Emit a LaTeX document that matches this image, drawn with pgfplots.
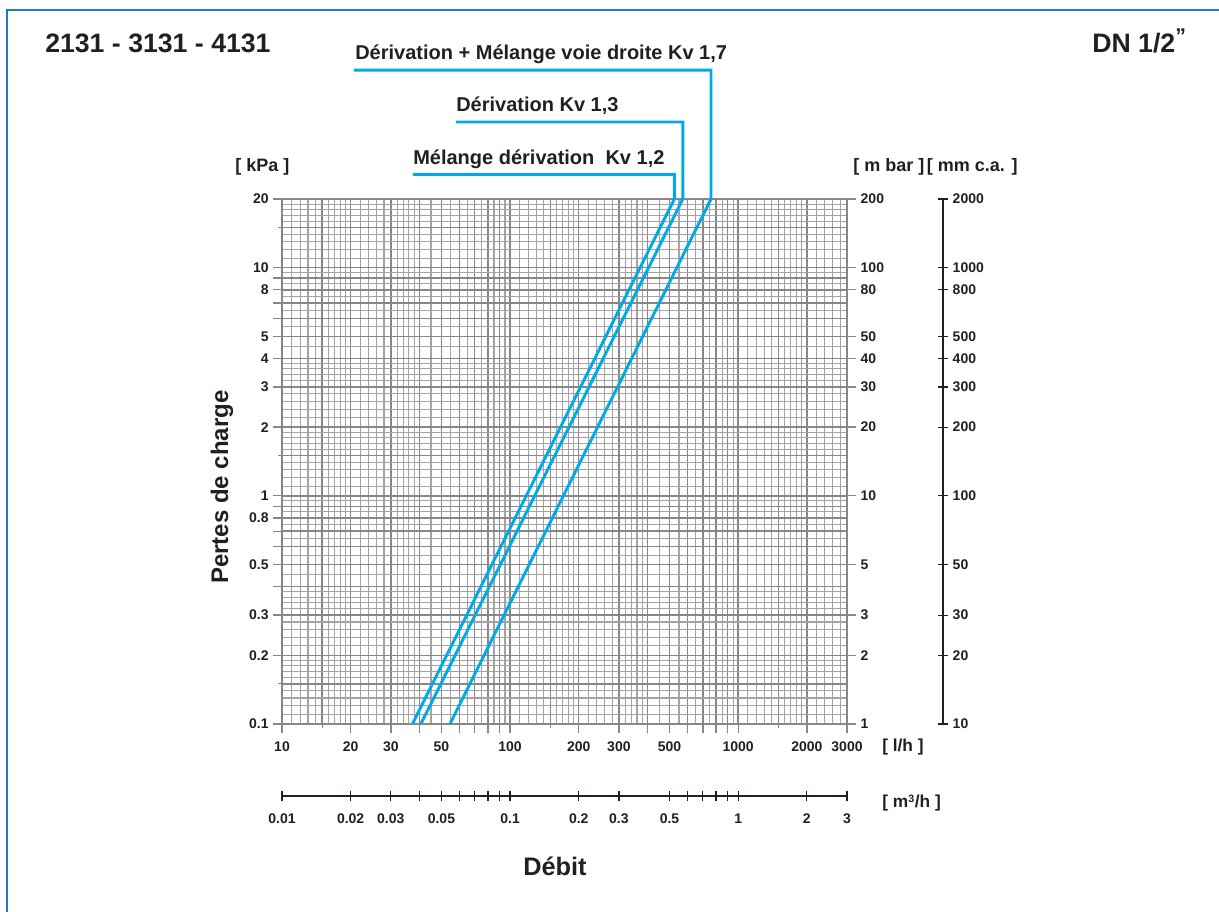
\documentclass[border=0pt]{standalone}
\usepackage{pgfplots}
\pgfplotsset{compat=1.18}
\usepackage{fontspec}
\setmainfont{Liberation Sans}

\definecolor{cyanline}{RGB}{0,170,232}
\definecolor{gridd}{RGB}{135,135,135}
\definecolor{gridl}{RGB}{163,163,163}
\definecolor{frameblue}{RGB}{25,125,200}
\definecolor{ink}{RGB}{35,31,32}

% tick label font
\newcommand{\tl}{\fontsize{10.5}{12}\selectfont\bfseries}

\begin{document}
\begin{tikzpicture}
\useasboundingbox (0,0) rectangle (914.25pt,684pt);

% texts and frame, in reference pixels (y up)
\begin{scope}[x=0.75pt,y=0.75pt]
  \draw[frameblue,line width=1.5pt] (7,0) -- (7,902) -- (1219,902);
  \node[anchor=base west,inner sep=0,text=ink,font=\fontsize{20}{24}\selectfont\bfseries] at (45,859) {2131 - 3131 - 4131};
  \node[anchor=base west,inner sep=0,text=ink,font=\fontsize{20}{24}\selectfont\bfseries] at (1092,859) {DN 1/2\raisebox{0.35em}{\fontsize{16}{16}\selectfont ”}};
  \node[anchor=base west,inner sep=0,text=ink,font=\fontsize{13.5}{16}\selectfont\bfseries] at (235,740) {[ kPa ]};
  \node[anchor=base west,inner sep=0,text=ink,font=\fontsize{13.5}{16}\selectfont\bfseries] at (853,740) {[ m bar ]\hspace{2pt}[ mm c.a. ]};
  \node[anchor=base west,inner sep=0,text=ink,font=\fontsize{13}{16}\selectfont\bfseries] at (882,160) {[ l/h ]};
  \node[anchor=base west,inner sep=0,text=ink,font=\fontsize{13}{16}\selectfont\bfseries] at (882,104) {[ m\textsuperscript{\fontsize{8}{8}\selectfont 3}/h ]};
  \node[rotate=90,text=ink,font=\fontsize{18}{22}\selectfont\bfseries] at (222,425) {Pertes de charge};
  \node[text=ink,font=\fontsize{19}{22}\selectfont\bfseries] at (555,46) {Débit};
  \node[anchor=base west,inner sep=0,text=ink,font=\fontsize{15}{18}\selectfont\bfseries] at (355,852) {Dérivation + Mélange voie droite Kv 1,7};
  \node[anchor=base west,inner sep=0,text=ink,font=\fontsize{15}{18}\selectfont\bfseries] at (456,800) {Dérivation Kv 1,3};
  \node[anchor=base west,inner sep=0,text=ink,font=\fontsize{15}{18}\selectfont\bfseries] at (413,747) {Mélange dérivation\ \ Kv 1,2};
\end{scope}

% grid and curves
\begin{axis}[
  at={(211.5pt,141pt)}, anchor=south west,
  scale only axis, width=423.75pt, height=393.75pt,
  xmode=log, ymode=log,
  xmin=10, xmax=3000, ymin=0.1, ymax=20,
  xtick={10,15,20,30,40,50,60,70,80,90,100,150,200,300,400,500,600,700,800,900,1000,1500,2000,3000},
  minor xtick={11,12,13,14,16,17,18,19,22,24,26,28,32,34,36,38,45,55,65,75,85,95,
    110,120,130,140,160,170,180,190,220,240,260,280,320,340,360,380,450,550,650,750,850,950,
    1100,1200,1300,1400,1600,1700,1800,1900,2200,2400,2600,2800},
  ytick={0.1,0.15,0.2,0.3,0.4,0.5,0.6,0.7,0.8,0.9,1,1.5,2,3,4,5,6,7,8,9,10,15,20},
  minor ytick={0.11,0.12,0.13,0.14,0.16,0.17,0.18,0.19,0.22,0.24,0.26,0.28,0.32,0.34,0.36,0.38,0.45,0.55,0.65,0.75,0.85,0.95,
    1.1,1.2,1.3,1.4,1.6,1.7,1.8,1.9,2.2,2.4,2.6,2.8,3.2,3.4,3.6,3.8,4.5,5.5,6.5,7.5,8.5,9.5,
    11,12,13,14,16,17,18,19},
  xticklabels={}, yticklabels={},
  major tick length=0pt, minor tick length=0pt,
  tick style={draw=none},
  grid=both,
  major grid style={gridd, line width=1.1pt},
  minor grid style={gridl, line width=0.8pt},
  axis line style={gridd, line width=1.1pt},
  clip=false,
]
\addplot[cyanline, line width=2.2pt, line join=miter] coordinates {(37.3,0.1) (525,20) (525,25.6) (37.5,25.6)};
\addplot[cyanline, line width=2.2pt, line join=miter] coordinates {(40.6,0.1) (572,20) (572,43.5) (57.9,43.5)};
\addplot[cyanline, line width=2.2pt, line join=miter] coordinates {(54.5,0.1) (760,20) (760,73.4) (20.7,73.4)};
\end{axis}

% l/h and kPa ticks
\begin{axis}[
  at={(211.5pt,141pt)}, anchor=south west,
  scale only axis, width=423.75pt, height=393.75pt,
  xmode=log, ymode=log,
  xmin=10, xmax=3000, ymin=0.1, ymax=20,
  axis x line*=bottom, axis y line*=left,
  axis line style={draw=none,-},
  tick align=outside,
  xtick={10,20,30,40,50,60,70,80,90,100,200,300,400,500,600,700,800,900,1000,2000,3000},
  xticklabels={10,20,30,,50,,,,,100,200,300,,500,,,,,1000,2000,3000},
  minor xtick={15,150,1500},
  ytick={0.1,0.2,0.3,0.4,0.5,0.6,0.7,0.8,0.9,1,2,3,4,5,6,7,8,9,10,20},
  yticklabels={0.1,0.2,0.3,,0.5,,,0.8,,1,2,3,4,5,,,8,,10,20},
  minor ytick={0.15,1.5,15},
  major tick length=6.5pt, minor tick length=3pt,
  every tick/.style={gridd, line width=1pt},
  tick label style={font=\tl, text=ink},
  xticklabel style={yshift=-3pt},
]
\end{axis}

% m bar ticks
\begin{axis}[
  at={(211.5pt,141pt)}, anchor=south west,
  scale only axis, width=423.75pt, height=393.75pt,
  xmode=log, ymode=log,
  xmin=10, xmax=3000, ymin=0.1, ymax=20,
  axis y line*=right, axis x line=none,
  axis line style={draw=none,-},
  tick align=outside, major tick length=6.75pt,
  ytick={0.1,0.2,0.3,0.5,1,2,3,4,5,8,10,20},
  yticklabels={1,2,3,5,10,20,30,40,50,80,100,200},
  every tick/.style={gridd, line width=1pt},
  tick label style={font=\tl, text=ink},
]
\end{axis}

% mm c.a. scale
\begin{axis}[
  at={(707.25pt,141pt)}, anchor=south east,
  scale only axis, width=1pt, height=393.75pt,
  xmin=0, xmax=1, ymode=log, ymin=0.1, ymax=20,
  axis y line=right, axis x line=none,
  axis line style={ink, line width=0.9pt, -},
  tick align=center, major tick length=7.5pt,
  ytick={0.1,0.2,0.3,0.5,1,2,3,4,5,8,10,20},
  yticklabels={10,20,30,50,100,200,300,400,500,800,1000,2000},
  every tick/.style={ink, line width=0.9pt},
  tick label style={font=\tl, text=ink},
]
\end{axis}

% m3/h scale
\begin{axis}[
  at={(211.5pt,87pt)}, anchor=south west,
  scale only axis, width=423.75pt, height=1pt,
  xmode=log, xmin=0.01, xmax=3, ymin=0, ymax=1,
  axis x line=bottom, axis y line=none,
  axis line style={ink, line width=0.9pt, -},
  tick align=center, major tick length=8pt,
  xtick={0.01,0.02,0.03,0.04,0.05,0.06,0.07,0.08,0.09,0.1,0.2,0.3,0.5,0.6,0.7,0.8,0.9,1,2,3},
  xticklabels={0.01,0.02,0.03,,0.05,,,,,0.1,0.2,0.3,0.5,,,,,1,2,3},
  every tick/.style={ink, line width=0.9pt},
  tick label style={font=\tl, text=ink},
  xticklabel style={yshift=-5.5pt},
]
\end{axis}
\end{tikzpicture}
\end{document}
